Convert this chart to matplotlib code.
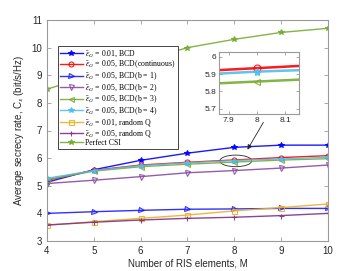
import matplotlib
matplotlib.use("Agg")
import matplotlib.pyplot as plt
from matplotlib.patches import Ellipse

plt.rcParams['font.family'] = ['Liberation Sans', 'DejaVu Sans']
plt.rcParams['mathtext.fontset'] = 'stix'

M = [4, 5, 6, 7, 8, 9, 10]
bcd_001 = [5.13, 5.58, 5.92, 6.18, 6.39, 6.47, 6.47]
bcd_cont = [5.20, 5.56, 5.75, 5.85, 5.934, 6.02, 6.09]
bcd_b1 = [4.00, 4.06, 4.11, 4.15, 4.16, 4.18, 4.18]
bcd_b2 = [5.08, 5.20, 5.33, 5.47, 5.55, 5.64, 5.75]
bcd_b3 = [5.22, 5.53, 5.69, 5.78, 5.857, 5.93, 5.98]
bcd_b4 = [5.27, 5.55, 5.73, 5.83, 5.914, 5.97, 6.03]
rand_001 = [3.57, 3.70, 3.82, 3.94, 4.09, 4.21, 4.34]
rand_005 = [3.58, 3.68, 3.76, 3.82, 3.86, 3.92, 4.00]
perfect = [8.5, 9.0, 9.5, 10.0, 10.3, 10.55, 10.7]

labels = [r'$\bar{\epsilon}_G$ = 0.01, BCD',
          r'$\bar{\epsilon}_G$ = 0.05, BCD(continuous)',
          r'$\bar{\epsilon}_G$ = 0.05, BCD(b = 1)',
          r'$\bar{\epsilon}_G$ = 0.05, BCD(b = 2)',
          r'$\bar{\epsilon}_G$ = 0.05, BCD(b = 3)',
          r'$\bar{\epsilon}_G$ = 0.05, BCD(b = 4)',
          r'$\bar{\epsilon}_G$ = 0.01, random Q',
          r'$\bar{\epsilon}_G$ = 0.05, random Q',
          'Perfect CSI']
series = [bcd_001, bcd_cont, bcd_b1, bcd_b2, bcd_b3, bcd_b4, rand_001, rand_005, perfect]
colors = ['#0000ff', '#ff0000', '#1a1aff', '#8a4a9e', '#77ac30', '#4dbeee', '#edb120', '#7e2f8e', '#77ac30']
markers = ['*', 'o', '>', 'v', '<', '*', 's', '+', '*']
filled = [True, False, False, False, False, True, False, True, True]

fig = plt.figure(figsize=(3.62, 2.71), dpi=100)
ax = fig.add_axes([47/362, 30/271, 281/362, 221/271])

def draw(a, lw, ms, star_extra):
    for y, c, m, f, lab in zip(series, colors, markers, filled, labels):
        a.plot(M, y, color=c, marker=m, lw=lw, ms=ms + (star_extra if m == '*' else 0),
               mfc=(c if f else 'none'), mec=c, mew=0.8, label=lab, alpha=0.9)

draw(ax, 1.0, 3.6, 0.6)
ax.set_xlim(4, 10)
ax.set_ylim(3, 11)
ax.set_xticks(M)
ax.set_yticks(range(3, 12))
gray = '#9a9a9a'
for s in ax.spines.values():
    s.set_color(gray)
    s.set_linewidth(0.8)
ax.tick_params(direction='in', top=True, right=True, labelsize=7, colors=gray,
               labelcolor='#262626', length=3, width=0.6)
ax.set_xlabel('Number of RIS elements, M', fontsize=7, color='#262626', labelpad=2)
ax.set_ylabel(r'Average secrecy rate, C$_{\mathsf{s}}$ (bit/s/Hz)', fontsize=7,
              color='#262626', labelpad=4)

leg = ax.legend(loc='upper left', bbox_to_anchor=(0.038, 0.882), borderaxespad=0,
                prop={'family': 'Liberation Serif', 'size': 5.6}, handlelength=2.9,
                labelspacing=0.0, handletextpad=0.35, borderpad=0.3,
                fancybox=False, framealpha=1)
leg.get_frame().set_edgecolor('#262626')
leg.get_frame().set_linewidth(0.6)

ell = Ellipse((8.03, 5.9), 0.68, 0.42, fill=False, edgecolor='#262626', lw=0.6)
ax.add_patch(ell)
ax.annotate('', xy=(8.25, 6.22), xytext=(8.65, 7.38),
            arrowprops=dict(arrowstyle='-|>', color='#262626', lw=0.6,
                            mutation_scale=7))

ins = fig.add_axes([219/362, 157/271, 80/362, 62/271])
draw(ins, 1.8, 5, 1)
ins.set_xlim(7.866, 8.148)
ins.set_ylim(5.67, 6.027)
ins.set_xticks([7.9, 8.0, 8.1])
ins.set_xticklabels(['7.9', '8', '8.1'])
ins.set_yticks([5.7, 5.8, 5.9, 6.0])
ins.set_yticklabels(['5.7', '5.8', '5.9', '6'])
for s in ins.spines.values():
    s.set_color(gray)
    s.set_linewidth(0.8)
ins.tick_params(direction='in', top=True, right=True, labelsize=6, colors=gray,
                labelcolor='#262626', length=2, width=0.6, pad=2)

fig.savefig('out.png', dpi=100)
